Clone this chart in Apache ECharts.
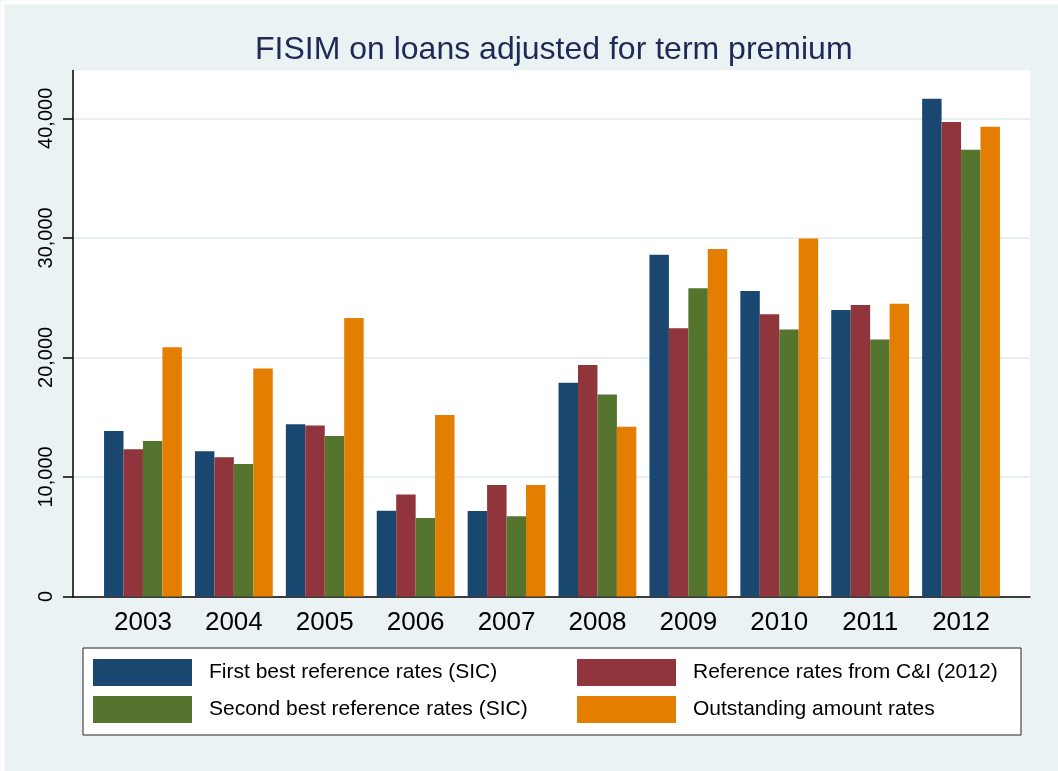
<!DOCTYPE html>
<html>
<head>
<meta charset="utf-8">
<script src="https://cdn.jsdelivr.net/npm/echarts@6/dist/echarts.min.js"></script>
<style>
html,body{margin:0;padding:0;background:#fff;}
#chart{width:1058px;height:771px;}
</style>
</head>
<body>
<div id="chart"></div>
<script>
var years = ['2003','2004','2005','2006','2007','2008','2009','2010','2011','2012'];
var seriesNames = ['First best reference rates (SIC)','Reference rates from C&I (2012)','Second best reference rates (SIC)','Outstanding amount rates'];
var firstBest = [13850,12150,14410,7180,7150,17890,28580,25560,23970,41640];
var refCI = [12320,11650,14310,8530,9320,19360,22440,23600,24380,39690];
var secondBest = [13000,11080,13420,6560,6720,16900,25780,22330,21490,37380];
var outstanding = [20860,19080,23290,15190,9320,14190,29060,29940,24490,39290];
var yTicks = [0,10000,20000,30000,40000];
var colors = ['#1A476F','#90353B','#55752F','#E37E00'];

function fmt(v){ return String(v).replace(/\B(?=(\d{3})+(?!\d))/g, ','); }

var FONT = 'Liberation Sans, Arial, Helvetica, sans-serif';
var chart = echarts.init(document.getElementById('chart'), null, {renderer:'canvas'});
var dataSets = [firstBest, refCI, secondBest, outstanding];

var option = {
  backgroundColor: '#EAF2F3',
  animation: false,
  textStyle: {fontFamily: FONT},
  title: {
    text: 'FISIM on loans adjusted for term premium',
    left: 250, top: 29,
    textStyle: {fontFamily: FONT, fontSize: 32, fontWeight: 'normal', color: '#1E2A55'}
  },
  graphic: [
    {type:'rect', left:0, top:0, shape:{x:0,y:0,width:1058,height:771}, style:{fill:'none', stroke:'#fff', lineWidth:4}, silent:true, z:-1},
    {type:'rect', shape:{x:83, y:648, width:938, height:87}, style:{fill:'#fff', stroke:'#222', lineWidth:1}, silent:true, z:0}
  ],
  legend: [
    {orient:'vertical', left:88, top:654, itemWidth:99, itemHeight:27, itemGap:10, icon:'rect',
     data:[seriesNames[0], seriesNames[2]], z:5,
     textStyle:{fontFamily:FONT, fontSize:21, color:'#000', padding:[0,0,0,12]}},
    {orient:'vertical', left:572, top:654, itemWidth:99, itemHeight:27, itemGap:10, icon:'rect',
     data:[seriesNames[1], seriesNames[3]], z:5,
     textStyle:{fontFamily:FONT, fontSize:21, color:'#000', padding:[0,0,0,12]}}
  ],
  grid: [
    {left:73, right:28, top:70.5, bottom:174.5, show:true, backgroundColor:'#fff', borderWidth:0, containLabel:false},
    {left:97.5, right:51.5, top:70.5, bottom:174.5, containLabel:false}
  ],
  xAxis: [
    {gridIndex:0, type:'category', data:[''], boundaryGap:true,
     axisLine:{show:true, lineStyle:{color:'#000', width:1.5}}, axisTick:{show:false}, axisLabel:{show:false}, splitLine:{show:false}},
    {gridIndex:1, type:'category', data:years, boundaryGap:true,
     axisLine:{show:false}, axisTick:{show:false}, splitLine:{show:false},
     axisLabel:{show:true, fontFamily:FONT, fontSize:26, color:'#000', margin:13}}
  ],
  yAxis: [
    {gridIndex:0, type:'value', min:0, max:44000, interval:10000,
     axisLine:{show:true, lineStyle:{color:'#000', width:1.5}},
     axisTick:{show:true, length:10, lineStyle:{color:'#000', width:1.5}, customValues: yTicks},
     axisLabel:{show:true, rotate:90, fontFamily:FONT, fontSize:20, color:'#000', margin:17, customValues: yTicks,
       formatter:function(v){return fmt(v);}},
     splitLine:{show:true, lineStyle:{color:'#E8F0F2', width:2}}},
    {gridIndex:1, type:'value', min:0, max:44000, interval:10000, show:false, splitLine:{show:false}}
  ],
  series: seriesNames.map(function(name, i){
    return {
      name: name, type:'bar', xAxisIndex:1, yAxisIndex:1,
      data: dataSets[i],
      barGap: '0%', barCategoryGap: '14.4%',
      itemStyle: {color: colors[i]},
      z: 3
    };
  })
};
chart.setOption(option);
</script>
</body>
</html>
